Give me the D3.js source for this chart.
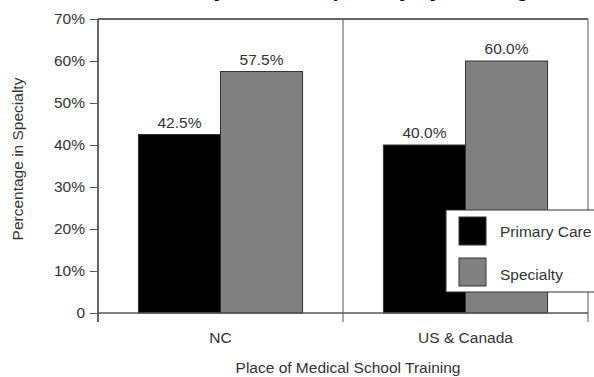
<!DOCTYPE html>
<html>
<head>
<meta charset="utf-8">
<script src="https://cdn.jsdelivr.net/npm/d3@7"></script>
<style>
  html, body { margin: 0; padding: 0; background: #fff; }
  svg { display: block; font-family: "Liberation Sans", Arial, sans-serif; }
</style>
</head>
<body>
<svg id="chart" width="594" height="377"></svg>
<script>
const categories = ["NC", "US & Canada"];
const seriesNames = ["Primary Care", "Specialty"];
const primaryCare = [42.5, 40.0];
const specialty = [57.5, 60.0];
const yTicks = [0, 10, 20, 30, 40, 50, 60, 70];
const titleText = "Primary Care vs. Specialty by Training";
const yTitle = "Percentage in Specialty";
const xTitle = "Place of Medical School Training";
const colors = ["#000000", "#808080"];

const FS = 15.5;
const svg = d3.select("#chart");
const m = { left: 98, right: 6, top: 19, bottom: 64 };
const W = 594, H = 377;
const iw = W - m.left - m.right, ih = H - m.top - m.bottom;

const x0 = d3.scaleBand().domain(categories).range([m.left, m.left + iw]).padding(0);
const x1 = d3.scaleBand().domain(seriesNames)
  .range([x0.bandwidth() * 0.165, x0.bandwidth() * 0.835]).padding(0);
const y = d3.scaleLinear().domain([0, 70]).range([m.top + ih, m.top]);

// title (mostly clipped above view, as in the reference)
svg.append("text").attr("x", 338).attr("y", -3).attr("text-anchor", "middle")
  .attr("font-weight", "bold").attr("font-size", 21).attr("fill", "#000").text(titleText);

// bars
const data = categories.map((c, i) => ({ cat: c, vals: [primaryCare[i], specialty[i]] }));
const g = svg.append("g");
data.forEach(d => {
  d.vals.forEach((v, j) => {
    const sx = x0(d.cat) + x1(seriesNames[j]);
    g.append("rect")
      .attr("x", sx).attr("y", y(v))
      .attr("width", x1.bandwidth()).attr("height", y(0) - y(v))
      .attr("fill", colors[j]).attr("stroke", "#333").attr("stroke-width", 1);
    g.append("text")
      .attr("x", sx + x1.bandwidth() / 2).attr("y", y(v) - 7)
      .attr("text-anchor", "middle").attr("font-size", FS).attr("fill", "#333")
      .text(v.toFixed(1) + "%");
  });
});

// frame: top line, vertical boundary lines
svg.append("line").attr("x1", m.left).attr("x2", m.left + iw)
  .attr("y1", y(70)).attr("y2", y(70)).attr("stroke", "#333").attr("stroke-width", 1.5);
const bounds = [m.left, x0(categories[1]), m.left + iw];
bounds.forEach((bx, i) => {
  svg.append("line").attr("x1", bx).attr("x2", bx)
    .attr("y1", y(70)).attr("y2", y(0) + 9)
    .attr("stroke", i === 0 ? "#333" : "#555").attr("stroke-width", i === 0 ? 1.5 : 1);
});
// baseline
svg.append("line").attr("x1", m.left).attr("x2", m.left + iw)
  .attr("y1", y(0)).attr("y2", y(0)).attr("stroke", "#555").attr("stroke-width", 1.5);

// y axis
const yAxis = d3.axisLeft(y).tickValues(yTicks).tickSize(8).tickPadding(5)
  .tickFormat(d => d === 0 ? "0" : d + "%");
const ya = svg.append("g").attr("transform", `translate(${m.left},0)`).call(yAxis);
ya.select(".domain").remove();
ya.selectAll("line").attr("stroke", "#555");
ya.selectAll("text").attr("font-size", FS).attr("fill", "#333")
  .attr("font-family", "Liberation Sans, Arial, sans-serif");

// x category labels
const xAxis = d3.axisBottom(x0).tickSize(0).tickPadding(19);
const xa = svg.append("g").attr("transform", `translate(0,${y(0)})`).call(xAxis);
xa.select(".domain").remove();
xa.selectAll("text").attr("font-size", FS).attr("fill", "#333")
  .attr("font-family", "Liberation Sans, Arial, sans-serif");

// axis titles
svg.append("text").attr("x", (m.left + m.left + iw) / 2 + 5).attr("y", 373)
  .attr("text-anchor", "middle").attr("font-size", FS).attr("fill", "#333").text(xTitle);
svg.append("text").attr("transform", "translate(23,159) rotate(-90)")
  .attr("text-anchor", "middle").attr("font-size", FS).attr("fill", "#333").text(yTitle);

// legend
const lg = svg.append("g").attr("transform", "translate(446,210)");
lg.append("rect").attr("x", 0).attr("y", 0).attr("width", 160).attr("height", 82)
  .attr("fill", "#fff").attr("stroke", "#333").attr("stroke-width", 1);
seriesNames.forEach((s, j) => {
  lg.append("rect").attr("x", 13).attr("y", 7 + j * 41).attr("width", 27).attr("height", 28)
    .attr("fill", colors[j]).attr("stroke", "#333").attr("stroke-width", 1);
  lg.append("text").attr("x", 54).attr("y", 27 + j * 43).attr("font-size", FS)
    .attr("fill", "#333").text(s);
});
</script>
</body>
</html>
